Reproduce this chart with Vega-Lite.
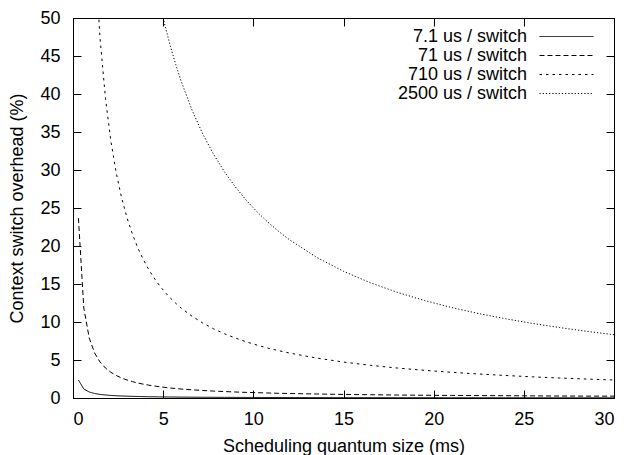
{
  "$schema": "https://vega.github.io/schema/vega-lite/v6.json",
  "width": 541,
  "height": 380,
  "autosize": {"type": "none"},
  "padding": {"left": 73, "top": 18, "right": 12, "bottom": 57},
  "background": "white",
  "data": {
    "values": [
      {"series": "7.1 us / switch", "quantum": 0.3, "overhead": 2.367},
      {"series": "7.1 us / switch", "quantum": 0.6, "overhead": 1.183},
      {"series": "7.1 us / switch", "quantum": 0.9, "overhead": 0.789},
      {"series": "7.1 us / switch", "quantum": 1.2, "overhead": 0.592},
      {"series": "7.1 us / switch", "quantum": 1.5, "overhead": 0.473},
      {"series": "7.1 us / switch", "quantum": 1.8, "overhead": 0.394},
      {"series": "7.1 us / switch", "quantum": 2.1, "overhead": 0.338},
      {"series": "7.1 us / switch", "quantum": 2.4, "overhead": 0.296},
      {"series": "7.1 us / switch", "quantum": 2.7, "overhead": 0.263},
      {"series": "7.1 us / switch", "quantum": 3.0, "overhead": 0.237},
      {"series": "7.1 us / switch", "quantum": 3.6, "overhead": 0.197},
      {"series": "7.1 us / switch", "quantum": 4.2, "overhead": 0.169},
      {"series": "7.1 us / switch", "quantum": 4.8, "overhead": 0.148},
      {"series": "7.1 us / switch", "quantum": 5.4, "overhead": 0.131},
      {"series": "7.1 us / switch", "quantum": 6.0, "overhead": 0.118},
      {"series": "7.1 us / switch", "quantum": 7.2, "overhead": 0.099},
      {"series": "7.1 us / switch", "quantum": 8.4, "overhead": 0.085},
      {"series": "7.1 us / switch", "quantum": 9.6, "overhead": 0.074},
      {"series": "7.1 us / switch", "quantum": 12.0, "overhead": 0.059},
      {"series": "7.1 us / switch", "quantum": 15.0, "overhead": 0.047},
      {"series": "7.1 us / switch", "quantum": 18.0, "overhead": 0.039},
      {"series": "7.1 us / switch", "quantum": 21.0, "overhead": 0.034},
      {"series": "7.1 us / switch", "quantum": 24.0, "overhead": 0.030},
      {"series": "7.1 us / switch", "quantum": 27.0, "overhead": 0.026},
      {"series": "7.1 us / switch", "quantum": 30.0, "overhead": 0.024},

      {"series": "71 us / switch", "quantum": 0.3, "overhead": 23.67},
      {"series": "71 us / switch", "quantum": 0.6, "overhead": 11.83},
      {"series": "71 us / switch", "quantum": 0.9, "overhead": 7.89},
      {"series": "71 us / switch", "quantum": 1.2, "overhead": 5.92},
      {"series": "71 us / switch", "quantum": 1.5, "overhead": 4.73},
      {"series": "71 us / switch", "quantum": 1.8, "overhead": 3.94},
      {"series": "71 us / switch", "quantum": 2.1, "overhead": 3.38},
      {"series": "71 us / switch", "quantum": 2.4, "overhead": 2.96},
      {"series": "71 us / switch", "quantum": 2.7, "overhead": 2.63},
      {"series": "71 us / switch", "quantum": 3.0, "overhead": 2.37},
      {"series": "71 us / switch", "quantum": 3.3, "overhead": 2.15},
      {"series": "71 us / switch", "quantum": 3.6, "overhead": 1.97},
      {"series": "71 us / switch", "quantum": 3.9, "overhead": 1.82},
      {"series": "71 us / switch", "quantum": 4.2, "overhead": 1.69},
      {"series": "71 us / switch", "quantum": 4.5, "overhead": 1.58},
      {"series": "71 us / switch", "quantum": 4.8, "overhead": 1.48},
      {"series": "71 us / switch", "quantum": 5.1, "overhead": 1.39},
      {"series": "71 us / switch", "quantum": 5.4, "overhead": 1.31},
      {"series": "71 us / switch", "quantum": 5.7, "overhead": 1.25},
      {"series": "71 us / switch", "quantum": 6.0, "overhead": 1.18},
      {"series": "71 us / switch", "quantum": 6.6, "overhead": 1.08},
      {"series": "71 us / switch", "quantum": 7.2, "overhead": 0.99},
      {"series": "71 us / switch", "quantum": 7.8, "overhead": 0.91},
      {"series": "71 us / switch", "quantum": 8.4, "overhead": 0.85},
      {"series": "71 us / switch", "quantum": 9.0, "overhead": 0.79},
      {"series": "71 us / switch", "quantum": 9.6, "overhead": 0.74},
      {"series": "71 us / switch", "quantum": 10.2, "overhead": 0.70},
      {"series": "71 us / switch", "quantum": 10.8, "overhead": 0.66},
      {"series": "71 us / switch", "quantum": 11.4, "overhead": 0.62},
      {"series": "71 us / switch", "quantum": 12.0, "overhead": 0.59},
      {"series": "71 us / switch", "quantum": 13.5, "overhead": 0.53},
      {"series": "71 us / switch", "quantum": 15.0, "overhead": 0.47},
      {"series": "71 us / switch", "quantum": 16.5, "overhead": 0.43},
      {"series": "71 us / switch", "quantum": 18.0, "overhead": 0.39},
      {"series": "71 us / switch", "quantum": 19.5, "overhead": 0.36},
      {"series": "71 us / switch", "quantum": 21.0, "overhead": 0.34},
      {"series": "71 us / switch", "quantum": 22.5, "overhead": 0.32},
      {"series": "71 us / switch", "quantum": 24.0, "overhead": 0.30},
      {"series": "71 us / switch", "quantum": 25.5, "overhead": 0.28},
      {"series": "71 us / switch", "quantum": 27.0, "overhead": 0.26},
      {"series": "71 us / switch", "quantum": 28.5, "overhead": 0.25},
      {"series": "71 us / switch", "quantum": 30.0, "overhead": 0.24},

      {"series": "710 us / switch", "quantum": 1.2, "overhead": 59.17},
      {"series": "710 us / switch", "quantum": 1.5, "overhead": 47.33},
      {"series": "710 us / switch", "quantum": 1.8, "overhead": 39.44},
      {"series": "710 us / switch", "quantum": 2.1, "overhead": 33.81},
      {"series": "710 us / switch", "quantum": 2.4, "overhead": 29.58},
      {"series": "710 us / switch", "quantum": 2.7, "overhead": 26.30},
      {"series": "710 us / switch", "quantum": 3.0, "overhead": 23.67},
      {"series": "710 us / switch", "quantum": 3.3, "overhead": 21.52},
      {"series": "710 us / switch", "quantum": 3.6, "overhead": 19.72},
      {"series": "710 us / switch", "quantum": 3.9, "overhead": 18.21},
      {"series": "710 us / switch", "quantum": 4.2, "overhead": 16.90},
      {"series": "710 us / switch", "quantum": 4.5, "overhead": 15.78},
      {"series": "710 us / switch", "quantum": 4.8, "overhead": 14.79},
      {"series": "710 us / switch", "quantum": 5.1, "overhead": 13.92},
      {"series": "710 us / switch", "quantum": 5.4, "overhead": 13.15},
      {"series": "710 us / switch", "quantum": 5.7, "overhead": 12.46},
      {"series": "710 us / switch", "quantum": 6.0, "overhead": 11.83},
      {"series": "710 us / switch", "quantum": 6.6, "overhead": 10.76},
      {"series": "710 us / switch", "quantum": 7.2, "overhead": 9.86},
      {"series": "710 us / switch", "quantum": 7.8, "overhead": 9.10},
      {"series": "710 us / switch", "quantum": 8.4, "overhead": 8.45},
      {"series": "710 us / switch", "quantum": 9.0, "overhead": 7.89},
      {"series": "710 us / switch", "quantum": 9.6, "overhead": 7.40},
      {"series": "710 us / switch", "quantum": 10.2, "overhead": 6.96},
      {"series": "710 us / switch", "quantum": 10.8, "overhead": 6.57},
      {"series": "710 us / switch", "quantum": 11.4, "overhead": 6.23},
      {"series": "710 us / switch", "quantum": 12.0, "overhead": 5.92},
      {"series": "710 us / switch", "quantum": 13.5, "overhead": 5.26},
      {"series": "710 us / switch", "quantum": 15.0, "overhead": 4.73},
      {"series": "710 us / switch", "quantum": 16.5, "overhead": 4.30},
      {"series": "710 us / switch", "quantum": 18.0, "overhead": 3.94},
      {"series": "710 us / switch", "quantum": 19.5, "overhead": 3.64},
      {"series": "710 us / switch", "quantum": 21.0, "overhead": 3.38},
      {"series": "710 us / switch", "quantum": 22.5, "overhead": 3.16},
      {"series": "710 us / switch", "quantum": 24.0, "overhead": 2.96},
      {"series": "710 us / switch", "quantum": 25.5, "overhead": 2.78},
      {"series": "710 us / switch", "quantum": 27.0, "overhead": 2.63},
      {"series": "710 us / switch", "quantum": 28.5, "overhead": 2.49},
      {"series": "710 us / switch", "quantum": 30.0, "overhead": 2.37},

      {"series": "2500 us / switch", "quantum": 4.8, "overhead": 52.08},
      {"series": "2500 us / switch", "quantum": 5.1, "overhead": 49.02},
      {"series": "2500 us / switch", "quantum": 5.4, "overhead": 46.30},
      {"series": "2500 us / switch", "quantum": 5.7, "overhead": 43.86},
      {"series": "2500 us / switch", "quantum": 6.0, "overhead": 41.67},
      {"series": "2500 us / switch", "quantum": 6.6, "overhead": 37.88},
      {"series": "2500 us / switch", "quantum": 7.2, "overhead": 34.72},
      {"series": "2500 us / switch", "quantum": 7.8, "overhead": 32.05},
      {"series": "2500 us / switch", "quantum": 8.4, "overhead": 29.76},
      {"series": "2500 us / switch", "quantum": 9.0, "overhead": 27.78},
      {"series": "2500 us / switch", "quantum": 9.6, "overhead": 26.04},
      {"series": "2500 us / switch", "quantum": 10.2, "overhead": 24.51},
      {"series": "2500 us / switch", "quantum": 10.8, "overhead": 23.15},
      {"series": "2500 us / switch", "quantum": 11.4, "overhead": 21.93},
      {"series": "2500 us / switch", "quantum": 12.0, "overhead": 20.83},
      {"series": "2500 us / switch", "quantum": 13.5, "overhead": 18.52},
      {"series": "2500 us / switch", "quantum": 15.0, "overhead": 16.67},
      {"series": "2500 us / switch", "quantum": 16.5, "overhead": 15.15},
      {"series": "2500 us / switch", "quantum": 18.0, "overhead": 13.89},
      {"series": "2500 us / switch", "quantum": 19.5, "overhead": 12.82},
      {"series": "2500 us / switch", "quantum": 21.0, "overhead": 11.90},
      {"series": "2500 us / switch", "quantum": 22.5, "overhead": 11.11},
      {"series": "2500 us / switch", "quantum": 24.0, "overhead": 10.42},
      {"series": "2500 us / switch", "quantum": 25.5, "overhead": 9.80},
      {"series": "2500 us / switch", "quantum": 27.0, "overhead": 9.26},
      {"series": "2500 us / switch", "quantum": 28.5, "overhead": 8.77},
      {"series": "2500 us / switch", "quantum": 30.0, "overhead": 8.33}
    ]
  },
  "layer": [
    {
      "mark": {"type": "line", "clip": true, "color": "black", "strokeWidth": 1},
      "encoding": {
        "x": {
          "field": "quantum", "type": "quantitative",
          "scale": {"domain": [0, 30], "nice": false},
          "axis": {"title": "Scheduling quantum size (ms)", "values": [0, 5, 10, 15, 20, 25, 30], "tickSize": -8, "labelPadding": 20, "titlePadding": 9}
        },
        "y": {
          "field": "overhead", "type": "quantitative",
          "scale": {"domain": [0, 50], "nice": false},
          "axis": {"title": "Context switch overhead (%)", "values": [0, 5, 10, 15, 20, 25, 30, 35, 40, 45, 50], "tickSize": -8, "labelPadding": 21, "titlePadding": 13}
        },
        "strokeDash": {
          "field": "series", "type": "nominal",
          "scale": {
            "domain": ["7.1 us / switch", "71 us / switch", "710 us / switch", "2500 us / switch"],
            "range": [[1, 0], [5, 3], [2.5, 4], [1.2, 2]]
          },
          "legend": {
            "title": null, "orient": "none", "legendX": 341, "legendY": 9,
            "padding": 0, "symbolType": "M-3,0L3,0", "symbolSize": 324,
            "symbolStrokeWidth": 1, "symbolStrokeColor": "black",
            "symbolOffset": 143, "labelOffset": -49, "labelAlign": "right",
            "labelFont": "Liberation Sans", "labelFontSize": 18, "labelColor": "black",
            "rowPadding": 0
          }
        },
        "order": {"field": "quantum", "type": "quantitative"}
      }
    },
    {
      "mark": {"type": "line", "opacity": 0},
      "encoding": {
        "x": {"field": "quantum", "type": "quantitative", "axis": {"orient": "top", "labels": false, "title": null, "values": [0, 5, 10, 15, 20, 25, 30], "tickSize": -8}},
        "y": {"field": "overhead", "type": "quantitative", "axis": {"orient": "right", "labels": false, "title": null, "values": [0, 5, 10, 15, 20, 25, 30, 35, 40, 45, 50], "tickSize": -8}},
        "detail": {"field": "series", "type": "nominal"}
      }
    }
  ],
  "resolve": {"axis": {"x": "independent", "y": "independent"}},
  "config": {
    "font": "Liberation Sans",
    "view": {"stroke": "black", "strokeWidth": 1},
    "axis": {
      "grid": false, "domainColor": "black", "domainWidth": 1,
      "tickColor": "black", "tickWidth": 1,
      "labelFont": "Liberation Sans", "labelFontSize": 18, "labelColor": "black",
      "titleFont": "Liberation Sans", "titleFontSize": 18, "titleFontWeight": "normal", "titleColor": "black"
    }
  }
}
